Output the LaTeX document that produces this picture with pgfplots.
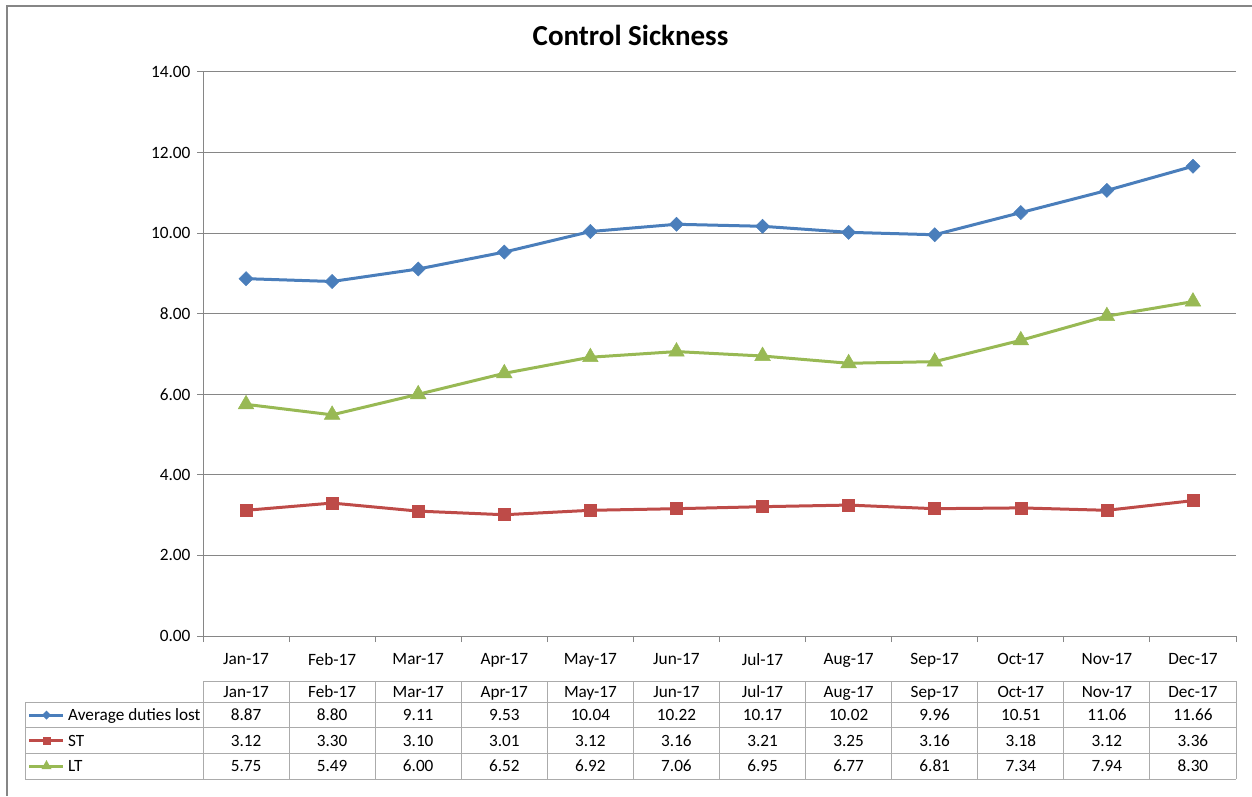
\documentclass[border=0pt]{standalone}
\usepackage{pgfplots}
\pgfplotsset{compat=1.18}
\usepackage{fontspec}
\setmainfont{Carlito}
\definecolor{cblue}{HTML}{4A7EBB}
\definecolor{cred}{HTML}{BE4B48}
\definecolor{cgreen}{HTML}{98B954}
\definecolor{axgray}{HTML}{868686}
\definecolor{tabgray}{HTML}{ABABAB}
\begin{document}
\begin{tikzpicture}[x=1pt,y=1pt]
\path[use as bounding box] (0,0) rectangle (1252,796);
\draw[axgray, line width=2pt] (1252,790.3) -- (6.5,790.3) -- (6.5,0);
\node[font=\bfseries\fontsize{29}{34}\selectfont, anchor=center] at (630.5,761) {Control Sickness};
\begin{axis}[at={(203pt,160pt)}, anchor=south west, scale only axis,
  width=1033pt, height=564pt,
  xmin=-0.5, xmax=11.5, ymin=0, ymax=14,
  ytick={0,2,4,6,8,10,12,14},
  xtick={-0.5,0.5,1.5,2.5,3.5,4.5,5.5,6.5,7.5,8.5,9.5,10.5,11.5},
  x tick label as interval,
  xticklabels={Jan-17,Feb-17,Mar-17,Apr-17,May-17,Jun-17,Jul-17,Aug-17,Sep-17,Oct-17,Nov-17,Dec-17},
  axis x line=bottom, axis y line=left,
  axis line style={-, axgray, line width=1pt},
  ymajorgrids, grid style={axgray, line width=1pt},
  tick align=outside, major tick length=6pt,
  tick style={axgray, line width=1pt},
  /pgf/number format/assume math mode=true,
  yticklabel style={/pgf/number format/fixed, /pgf/number format/fixed zerofill, /pgf/number format/precision=2, xshift=-3pt},
  xticklabel style={yshift=-8pt},
  tick label style={font=\fontsize{17.3}{20}\selectfont, text=black},
  clip=false]
\addplot[cblue, line width=3pt, mark=square*, mark size=5pt, mark options={rotate=45, line width=0.5pt}] coordinates {
(0,8.87) (1,8.80) (2,9.11) (3,9.53) (4,10.04) (5,10.22) (6,10.17) (7,10.02) (8,9.96) (9,10.51) (10,11.06) (11,11.66)};
\addplot[cred, line width=3pt, mark=square*, mark size=6pt, mark options={line width=0.5pt}] coordinates {
(0,3.12) (1,3.30) (2,3.10) (3,3.01) (4,3.12) (5,3.16) (6,3.21) (7,3.25) (8,3.16) (9,3.18) (10,3.12) (11,3.36)};
\addplot[cgreen, line width=3pt, mark=triangle*, mark size=9pt, mark options={line width=0.5pt}] coordinates {
(0,5.75) (1,5.49) (2,6.00) (3,6.52) (4,6.92) (5,7.06) (6,6.95) (7,6.77) (8,6.81) (9,7.34) (10,7.94) (11,8.30)};
\end{axis}
\begin{scope}[yshift=796pt, y=-1pt]
\begin{scope}[tabgray, line width=1pt]
\draw (203,681) -- (1236,681);
\foreach \yy in {702,727.5,753,779} \draw (25,\yy) -- (1236,\yy);
\draw (25,702) -- (25,779);
\foreach \k in {0,...,12} \draw ({203+86.083*\k},681) -- ({203+86.083*\k},779);
\end{scope}
\tikzset{tt/.style={font=\fontsize{17.2}{20}\selectfont, inner sep=0pt, text height=11pt, text depth=0pt, anchor=center}}
\foreach \m [count=\i from 0] in {Jan-17,Feb-17,Mar-17,Apr-17,May-17,Jun-17,Jul-17,Aug-17,Sep-17,Oct-17,Nov-17,Dec-17}
  \node[tt] at ({246.04+86.083*\i},691.5) {\m};
\foreach \v [count=\i from 0] in {8.87,8.80,9.11,9.53,10.04,10.22,10.17,10.02,9.96,10.51,11.06,11.66}
  \node[tt] at ({246.04+86.083*\i},715) {\v};
\foreach \v [count=\i from 0] in {3.12,3.30,3.10,3.01,3.12,3.16,3.21,3.25,3.16,3.18,3.12,3.36}
  \node[tt] at ({246.04+86.083*\i},740.5) {\v};
\foreach \v [count=\i from 0] in {5.75,5.49,6.00,6.52,6.92,7.06,6.95,6.77,6.81,7.34,7.94,8.30}
  \node[tt] at ({246.04+86.083*\i},766) {\v};
\draw[cblue, line width=3pt] (29,715) -- (63,715);
\fill[cblue] (46.5,710.5) -- (51,715) -- (46.5,719.5) -- (42,715) -- cycle;
\draw[cred, line width=3pt] (29,740.5) -- (63,740.5);
\fill[cred] (42.5,736.5) rectangle (50.5,744.5);
\draw[cgreen, line width=3pt] (29,766) -- (63,766);
\fill[cgreen] (46.5,760) -- (51.5,769) -- (41.5,769) -- cycle;
\node[tt, anchor=west] at (68,715) {Average duties lost};
\node[tt, anchor=west] at (68,740.5) {ST};
\node[tt, anchor=west] at (68,766) {LT};
\end{scope}
\end{tikzpicture}
\end{document}
